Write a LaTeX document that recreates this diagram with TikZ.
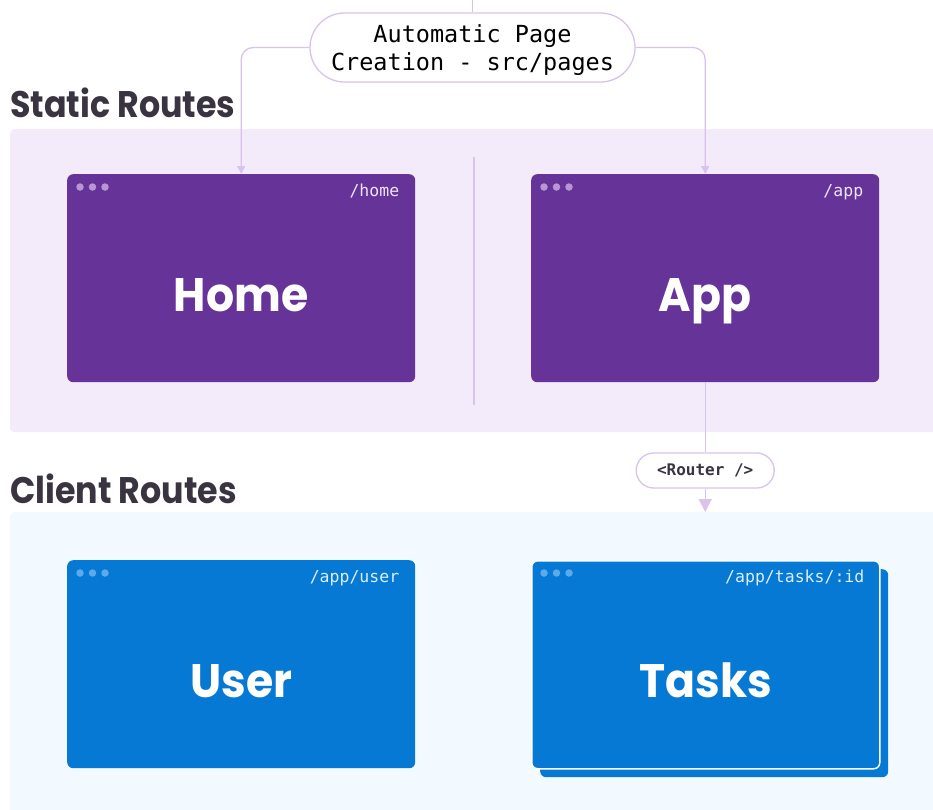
\documentclass[tikz,border=0pt]{standalone}
\usepackage{fontspec}
\setmainfont{Poppins}
\newfontfamily\headfont{Poppins}
\newfontfamily\codefont{DejaVu Sans Mono}
\usetikzlibrary{arrows.meta,shapes.misc}

\definecolor{gpurple}{HTML}{663399}
\definecolor{gblue}{HTML}{0679D4}
\definecolor{lav}{HTML}{D9C2EC}
\definecolor{staticbg}{HTML}{F3EAFA}
\definecolor{clientbg}{HTML}{F3FAFF}
\definecolor{ink}{HTML}{3A3441}
\definecolor{pdot}{HTML}{B896D6}
\definecolor{bdot}{HTML}{5EA9E8}
\definecolor{plabel}{HTML}{EEE4F7}
\definecolor{blabel}{HTML}{DCEEFC}

\begin{document}
\begin{tikzpicture}[x=1pt,y=-1pt,
  panel/.style={rounded corners=4pt, inner sep=0pt, anchor=north west, minimum width=940pt},
  win/.style={rounded corners=6pt, minimum width=348pt, minimum height=208pt, inner sep=0pt, anchor=north west},
  staticwin/.style={win, fill=gpurple},
  clientwin/.style={win, fill=gblue},
  conn/.style={draw=lav, line width=1.3pt, rounded corners=12pt},
  routelabel/.style={font=\codefont\fontsize{16.5}{16.5}\selectfont, anchor=base east, inner sep=0pt},
  pagetitle/.style={font=\headfont\bfseries\fontsize{47}{47}\selectfont, text=white, anchor=base, inner sep=0pt, xscale=0.94, transform shape},
  heading/.style={font=\headfont\bfseries\fontsize{37}{37}\selectfont, text=ink, anchor=base west, inner sep=0pt, xscale=0.9, transform shape},
  dot/.style={circle, inner sep=0pt, minimum size=7.5pt},
  pill/.style={rounded rectangle, draw=lav, fill=white, line width=1.3pt, inner sep=0pt}
]
\useasboundingbox (0,0) rectangle (933,809);
\clip (0,0) rectangle (933,809);
\fill[white] (0,0) rectangle (933,809);

% section backgrounds
\node[panel, fill=staticbg, minimum height=303pt] (staticpanel) at (10,129) {};
\node[panel, fill=clientbg, minimum height=310pt] (clientpanel) at (10,512) {};

% section headings
\node[heading] (statichead) at (10,117) {Static Routes};
\node[heading] (clienthead) at (10,503) {Client Routes};

% divider between the two static pages
\coordinate (divtop) at (474,157);
\coordinate (divbot) at (474,405);
\draw[lav, line width=1.3pt] (divtop) -- (divbot);

% static pages
\node[staticwin] (home) at (67,174) {};
\node[staticwin] (app) at (531,174) {};

% client pages
\node[clientwin] (user) at (67,560) {};
\node[win, fill=gblue] (tasksback) at (540,569) {};
\node[clientwin, draw=white, line width=1.5pt] (tasks) at (531,560) {};

% window dots
\foreach \w/\c in {home/pdot, app/pdot, user/bdot, tasks/bdot}{
  \node[dot, fill=\c] (\w-d1) at ([xshift=13pt,yshift=-13pt]\w.north west) {};
  \node[dot, fill=\c] (\w-d2) at ([xshift=25.5pt,yshift=-13pt]\w.north west) {};
  \node[dot, fill=\c] (\w-d3) at ([xshift=38pt,yshift=-13pt]\w.north west) {};
}

% route labels
\node[routelabel, text=plabel] (home-route) at ([xshift=-16pt,yshift=-22pt]home.north east) {/home};
\node[routelabel, text=plabel] (app-route) at ([xshift=-16pt,yshift=-22pt]app.north east) {/app};
\node[routelabel, text=blabel] (user-route) at ([xshift=-16pt,yshift=-22pt]user.north east) {/app/user};
\node[routelabel, text=blabel] (tasks-route) at ([xshift=-16pt,yshift=-22pt]tasks.north east) {/app/tasks/:id};

% page titles
\node[pagetitle] (home-title) at ([yshift=-137pt]home.north) {Home};
\node[pagetitle] (app-title) at ([yshift=-137pt]app.north) {App};
\node[pagetitle] (user-title) at ([yshift=-137pt]user.north) {User};
\node[pagetitle] (tasks-title) at ([yshift=-137pt]tasks.north) {Tasks};

% automatic page creation
\node[pill, minimum width=325pt, minimum height=69pt] (auto) at (472.5,47.5) {};
\node[align=center, inner sep=0pt, font=\codefont\fontsize{23.5}{28}\selectfont, text=black]
      (autotext) at ([yshift=-3pt]auto.center) {Automatic Page\\Creation - src/pages};
\coordinate (autotop) at (472.5,0);
\draw[conn] (autotop) -- (auto.north);
\draw[conn, -{Triangle[length=8pt,width=8pt]}] (auto.west) -| (home.north);
\draw[conn, -{Triangle[length=8pt,width=8pt]}] (auto.east) -| (app.north);

% client-side router
\node[pill, minimum width=138pt, minimum height=35pt,
      font=\codefont\bfseries\fontsize{16}{16}\selectfont, text=ink] (router) at (app.south |- 0,470.5) {<Router />};
\draw[conn] (app.south) -- (router.north);
\draw[conn, -{Triangle[length=13pt,width=13pt]}] (router.south) -- (router.south |- clientpanel.north);
\end{tikzpicture}
\end{document}
